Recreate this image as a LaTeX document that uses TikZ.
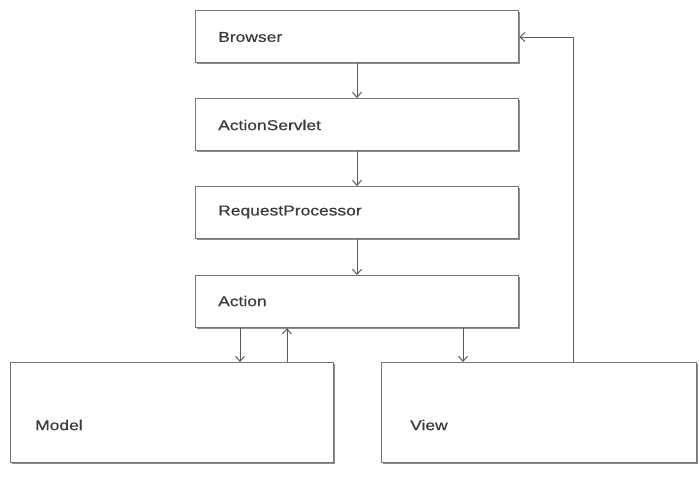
\documentclass[tikz,border=0pt]{standalone}
\usepackage{fontspec}
\setmainfont{Liberation Sans}[FakeStretch=1.22, FakeBold=0.4]
\usetikzlibrary{arrows.meta,shadows}
\definecolor{edge}{HTML}{767676}
\definecolor{ink}{HTML}{3A3A3A}
\definecolor{wire}{HTML}{5A5A5A}
\tikzset{
  box/.style={draw=edge, line width=1.2pt, fill=white, rectangle, anchor=north west,
    inner sep=0pt,
    drop shadow={shadow xshift=1.3pt, shadow yshift=-1.3pt, fill=black!45, opacity=1}},
  lbl/.style={text=ink, font=\fontsize{14.3}{16}\selectfont, anchor=west, inner sep=0pt},
  flow/.style={draw=wire, line width=1pt, -{Straight Barb[length=5pt,width=9pt,line width=1pt]}}
}
\begin{document}
\begin{tikzpicture}[x=1pt,y=-1pt]
\useasboundingbox (0,0) rectangle (700,491);
% stacked request-processing chain
\node[box, minimum width=323pt, minimum height=52pt] (browser) at (195,10) {};
\node[box, minimum width=323pt, minimum height=52pt] (servlet) at (195,98) {};
\node[box, minimum width=323pt, minimum height=52pt] (proc) at (195,186) {};
\node[box, minimum width=323pt, minimum height=52pt] (action) at (195,275) {};
% model and view
\node[box, minimum width=323pt, minimum height=100pt] (model) at (10,362) {};
\node[box, minimum width=315pt, minimum height=100pt] (view) at (381,362) {};
% labels
\node[lbl] (tb) at (218,37) {Browser};
\node[lbl] (ts) at (218,125) {ActionServlet};
\node[lbl] (tp) at (218,212) {RequestProcessor};
\node[lbl] (ta) at (218,301) {Action};
\node[lbl] (tm) at (35,425) {Model};
\node[lbl] (tv) at (410,425) {View};
% connectors
\draw[flow] (browser.south -| 357,0) -- (servlet.north -| 357,0);
\draw[flow] (servlet.south -| 357,0) -- (proc.north -| 357,0);
\draw[flow] (proc.south -| 357,0) -- (action.north -| 357,0);
\draw[flow] (action.south -| 240,0) -- (model.north -| 240,0);
\draw[flow] (model.north -| 287,0) -- (action.south -| 287,0);
\draw[flow] (action.south -| 463,0) -- (view.north -| 463,0);
\coordinate (bend) at (573,37);
\draw[flow] (view.north -| bend) -- (bend) -- (browser.east |- bend);
\end{tikzpicture}
\end{document}
